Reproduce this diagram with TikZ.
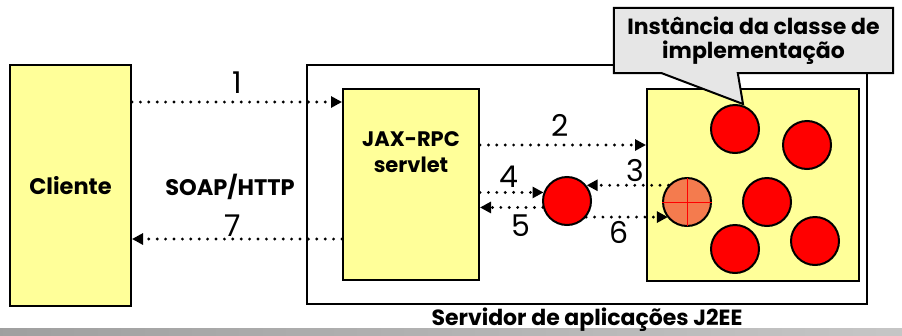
\documentclass[tikz,border=0pt]{standalone}
\usepackage{fontspec}
\setmainfont{Poppins}
\usetikzlibrary{positioning,arrows.meta,calc}
\definecolor{boxyellow}{HTML}{FFFF99}
\definecolor{notegray}{HTML}{E6E6E6}
\definecolor{objred}{HTML}{FF0000}
\definecolor{hotorange}{HTML}{F47B4E}

\begin{document}
\begin{tikzpicture}[x=1pt, y=-1pt, node distance=6pt,
  font=\fontsize{22.5}{27}\selectfont\bfseries,
  box/.style={draw, line width=2pt, fill=boxyellow, inner sep=0pt},
  obj/.style={circle, draw, line width=2pt, fill=objred,
              minimum size=48pt, inner sep=0pt},
  msg/.style={line width=3.2pt, dash pattern=on 0pt off 8.4pt, line cap=round,
              -{Triangle[length=11pt,width=11pt]}},
  num/.style={font=\fontsize{30}{30}\selectfont\mdseries, inner sep=1pt}]
  \useasboundingbox (0,0) rectangle (902,335);
  % grey strip along the bottom edge
  \shade[left color=gray!75, right color=gray!45] (0,328) rectangle (902,335);

  % client side
  \node[box, minimum width=121pt, minimum height=241pt] (cliente) at (70.5,185.5) {Cliente};
  \node (soap) at (230,187) {SOAP/HTTP};

  % application server and its parts
  \node[draw, line width=2.8pt, minimum width=560pt, minimum height=239pt] (servidor) at (587,184.5) {};
  \node[below=-1pt of servidor.south, font=\fontsize{22}{26}\selectfont\bfseries] (servlabel) {Servidor de aplicações J2EE};
  \node[box, minimum width=136pt, minimum height=191pt] (servlet) at (411,184.5) {};
  \node[align=center, below=40pt of servlet.north, font=\fontsize{21}{26}\selectfont\bfseries] (servlettxt) {JAX-RPC\\servlet};
  \node[box, minimum width=212pt, minimum height=192pt] (impl) at (753,185) {};

  \node[obj] (inst1) at (735,129) {};
  \node[obj] (inst2) at (807,145) {};
  \node[obj] (inst3) at (767,202) {};
  \node[obj] (inst4) at (735,249) {};
  \node[obj] (inst5) at (815,241) {};
  \node[obj, fill=hotorange] (hot) at (687,202) {};
  \draw[objred, line width=0.5pt, shorten <=1.2pt, shorten >=1.2pt]
    (hot.west) -- (hot.east) (hot.north) -- (hot.south);
  \node[obj] (proxy) at (567,201) {};

  % callout naming the instances
  \node[minimum width=279pt, minimum height=65pt] (nota) at (753.5,40.5) {};
  \filldraw[fill=notegray, line width=2pt, line join=miter]
    ([xshift=48pt]nota.south west) -- (nota.south west) -- (nota.north west)
    -- (nota.north east) -- (nota.south east) -- ([xshift=124pt]nota.south west)
    -- ([xshift=8pt]inst1.north) -- cycle;
  \node[align=center, font=\fontsize{22}{24}\selectfont\bfseries] (notatxt) at (nota) {Instância da classe de\\implementação};

  % messages
  \coordinate (m1) at ([yshift=-38pt]cliente.north east);
  \draw[msg] (m1) -- (m1 -| servlet.west) node[num, midway, above=6pt] {1};
  \coordinate (m2) at ([yshift=-57pt]servlet.north east);
  \draw[msg] (m2) -- (m2 -| impl.west) node[num, midway, above=6pt, xshift=-3pt] {2};
  \draw[msg] (hot.138) -- (hot.138 -| proxy.38) node[num, midway, above=1pt, xshift=8pt] {3};
  \draw[msg] (servlet.east |- proxy.160) -- (proxy.160) node[num, midway, above=2pt, xshift=-3pt] {4};
  \draw[msg] (proxy.195) -- (proxy.195 -| servlet.east) node[num, midway, below=5pt, xshift=9pt] {5};
  \draw[msg] (proxy.-40) -- (proxy.-40 -| hot.-140) node[num, midway, below=2pt, xshift=-8pt] {6};
  \coordinate (m7) at ([yshift=42pt]servlet.south west);
  \draw[msg] (m7) -- (m7 -| cliente.east) node[num, midway, above=0pt, xshift=-4pt] {7};
\end{tikzpicture}
\end{document}
